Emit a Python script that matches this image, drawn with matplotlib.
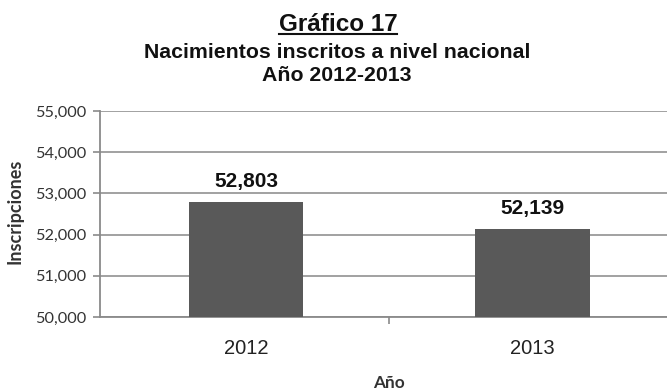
import matplotlib
matplotlib.use("Agg")
import matplotlib.pyplot as plt
from matplotlib.lines import Line2D
from matplotlib.ticker import FuncFormatter

# datos
anios = ["2012", "2013"]
inscripciones = [52803, 52139]
y_ticks = [50000, 51000, 52000, 53000, 54000, 55000]

fig = plt.figure(figsize=(6.67, 3.92), dpi=100)
ax = fig.add_axes([0.15, 0.191, 0.85, 0.526])

x = list(range(len(anios)))
ax.bar(x, inscripciones, width=0.4, color="#595959", zorder=3)

ax.set_ylim(y_ticks[0], y_ticks[-1])
ax.set_xlim(-0.51, 1.47)
ax.set_yticks(y_ticks)
ax.yaxis.set_major_formatter(FuncFormatter(lambda v, p: "{:,.0f}".format(v)))
ax.grid(axis="y", color="#9a9a9a", linewidth=1.3, zorder=0)

# marcas entre categorias
ax.set_xticks([0.5])
ax.set_xticklabels([""])
ax.tick_params(axis="x", length=5, width=1.2, color="#8a8a8a", direction="out")
ax.tick_params(axis="y", length=5, width=1.2, color="#8a8a8a", direction="out",
               labelsize=11.7, labelcolor="#333333", pad=5)
for lab in ax.get_yticklabels():
    lab.set_fontfamily("Lato")

for s in ["top", "right"]:
    ax.spines[s].set_visible(False)
for s in ["left", "bottom"]:
    ax.spines[s].set_color("#8a8a8a")
    ax.spines[s].set_linewidth(1.3)

# etiquetas de los años
for xi, a in zip(x, anios):
    ax.text(xi, -0.15, a, transform=ax.get_xaxis_transform(), ha="center", va="center",
            fontsize=14.5, family="Liberation Sans", color="#222222")

# valores sobre las barras
for xi, v in zip(x, inscripciones):
    ax.annotate("{:,}".format(v), (xi, v), xytext=(0, 10.5), textcoords="offset points",
                ha="center", va="baseline", fontsize=15, fontweight="bold",
                family="Liberation Sans", color="#111111")

fig.text(15 / 667, 1 - 211 / 392, "Inscripciones", rotation=90, ha="center", va="center",
         fontsize=13, fontweight="bold", family="Lato", color="#333333")
fig.text(389 / 667, 1 - 383 / 392, "Año", ha="center", va="center",
         fontsize=12.4, fontweight="bold", family="Lato", color="#333333")

# titulos
t1 = fig.text(338 / 667, 1 - 31 / 392, "Gráfico 17", ha="center", va="baseline",
              fontsize=17.5, fontweight="bold", family="Liberation Sans", color="#111111")
fig.text(337 / 667, 1 - 58 / 392, "Nacimientos inscritos a nivel nacional", ha="center",
         va="baseline", fontsize=15.3, fontweight="bold", family="Liberation Sans", color="#111111")
fig.text(337 / 667, 1 - 81 / 392, "Año 2012-2013", ha="center", va="baseline",
         fontsize=15.3, fontweight="bold", family="Liberation Sans", color="#111111")

# subrayado del titulo
fig.canvas.draw()
bb = t1.get_window_extent().transformed(fig.transFigure.inverted())
yb = 1 - 34 / 392
fig.add_artist(Line2D([bb.x0, bb.x1], [yb, yb], transform=fig.transFigure,
                      color="#111111", linewidth=1.5))

fig.savefig("out.png", dpi=100)
